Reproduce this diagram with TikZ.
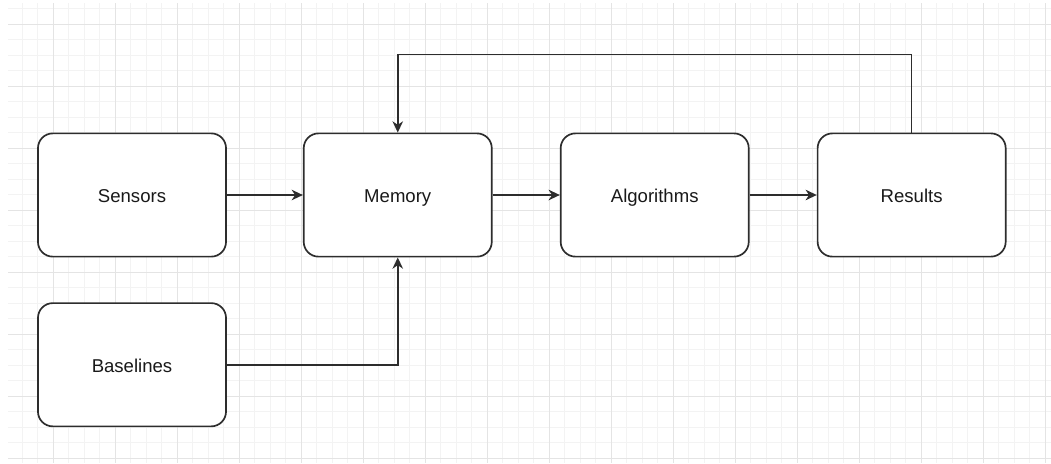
\documentclass[tikz,border=0pt]{standalone}
\usepackage{fontspec}
\setsansfont{Liberation Sans}
\usepackage{tikz}
\usetikzlibrary{arrows.meta, positioning, calc}
\usepackage{xcolor}
\definecolor{borda}{RGB}{45, 45, 45}
\definecolor{gradeMaior}{RGB}{228, 228, 228}
\definecolor{gradeMenor}{RGB}{243, 243, 243}
\tikzset{
  caixa/.style={
    draw=borda, line width=1.2pt, rounded corners=10.5pt, fill=white,
    minimum width=4.7cm, minimum height=3.08cm,
    text height=12pt, text depth=1.5pt,
    font=\sffamily\fontsize{13.2}{15}\selectfont, text=black!90, text centered
  },
  seta/.style={-{Stealth[length=8pt, width=7.5pt, inset=2.5pt]}, line width=1.1pt, borda},
}

\begin{document}
\begin{tikzpicture}[
    x=0.025cm, y=-0.025cm,
    linhaMenor/.style={gradeMenor, line width=0.6pt},
    linhaMaior/.style={gradeMaior, line width=0.7pt}
]
\useasboundingbox (0,0) rectangle (1051,463);

% Grade de fundo
\begin{scope}
  \clip (8,3) rectangle (1051,463);
  \foreach \x in {6.5,22,...,1051}
    \draw[linhaMenor] (\x,3) -- (\x,463);
  \foreach \y in {8.5,24,...,463}
    \draw[linhaMenor] (8,\y) -- (1051,\y);
  \foreach \x in {-9,53,...,1051}
    \draw[linhaMaior] (\x,3) -- (\x,463);
  \foreach \y in {24,86,...,463}
    \draw[linhaMaior] (8,\y) -- (1051,\y);
\end{scope}

% Caixas
\node[caixa] (sensores) at (132,195) {Sensors};
\node[caixa, right=1.9cm of sensores] (memoria) {Memory};
\node[caixa, right=1.68cm of memoria] (algoritmos) {Algorithms};
\node[caixa, right=1.68cm of algoritmos] (resultados) {Results};
\node[caixa, below=1.12cm of sensores] (baselines) {Baselines};

% Setas
\draw[seta] (sensores) -- (memoria);
\draw[seta] (memoria) -- (algoritmos);
\draw[seta] (algoritmos) -- (resultados);
\draw[seta] (baselines) -| (memoria);

% Retorno dos resultados
\coordinate (topo) at ($(resultados.north)+(0,1.95cm)$);
\draw[seta] (resultados.north) -- (topo) -| (memoria.north);

\end{tikzpicture}
\end{document}
